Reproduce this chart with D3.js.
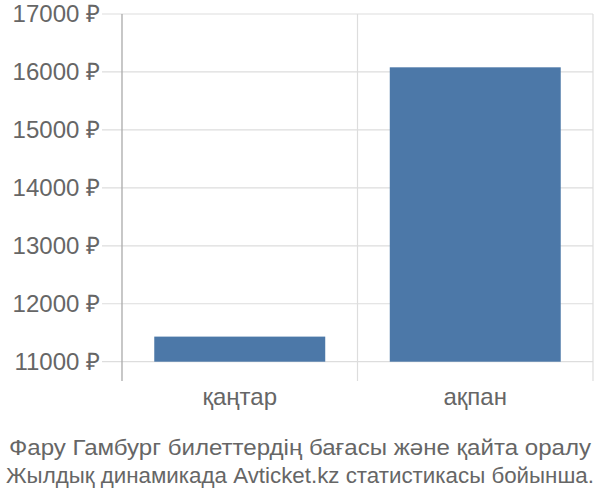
<!DOCTYPE html>
<html>
<head>
<meta charset="utf-8">
<script src="https://cdn.jsdelivr.net/npm/d3@7"></script>
<style>
  body { margin: 0; background: #fff; }
  text { font-family: "Liberation Sans", Arial, sans-serif; fill: #666; }
</style>
</head>
<body>
<div id="chart"></div>
<script>
var months = ["қаңтар", "ақпан"];
var prices = [11433, 16080];
var yTicks = [11000, 12000, 13000, 14000, 15000, 16000, 17000];
var titleLines = [
    "Фару Гамбург билеттердің бағасы және қайта оралу",
    "Жылдық динамикада Avticket.kz статистикасы бойынша."
];

function draw_chart() {
    var width = 600, height = 500;
    var left = 122, right = 593, top = 14, bottom = 361.7, axisEnd = 381;

    var svg = d3.select("#chart").append("svg")
        .attr("width", width)
        .attr("height", height);

    var xScale = d3.scaleBand()
        .domain(months)
        .range([left, right])
        .paddingInner(0)
        .paddingOuter(0);

    var yScale = d3.scaleLinear()
        .domain([11000, 17000])
        .range([bottom, top]);

    // horizontal grid lines (run under the labels as tick marks)
    svg.append("g").selectAll("line")
        .data(yTicks)
        .enter().append("line")
        .attr("x1", 102)
        .attr("x2", right)
        .attr("y1", function (d) { return yScale(d); })
        .attr("y2", function (d) { return yScale(d); })
        .attr("stroke", "#ddd")
        .attr("stroke-width", 1.2);

    // vertical grid lines at band edges
    svg.append("g").selectAll("line")
        .data(months)
        .enter().append("line")
        .attr("x1", function (d) { return xScale(d) + xScale.bandwidth(); })
        .attr("x2", function (d) { return xScale(d) + xScale.bandwidth(); })
        .attr("y1", top)
        .attr("y2", axisEnd)
        .attr("stroke", "#ddd")
        .attr("stroke-width", 1.2);

    // bars
    var inset = xScale.bandwidth() * 0.137;
    svg.append("g").selectAll("rect")
        .data(prices)
        .enter().append("rect")
        .attr("x", function (d, i) { return xScale(months[i]) + inset; })
        .attr("y", function (d) { return yScale(d); })
        .attr("width", xScale.bandwidth() - 2 * inset)
        .attr("height", function (d) { return yScale(11000) - yScale(d); })
        .attr("fill", "#4c78a8");

    // y axis line
    svg.append("line")
        .attr("x1", left).attr("x2", left)
        .attr("y1", top).attr("y2", axisEnd)
        .attr("stroke", "#aaa")
        .attr("stroke-width", 1.3);

    // y tick labels
    svg.append("g").selectAll("text")
        .data(yTicks)
        .enter().append("text")
        .attr("x", 100)
        .attr("y", function (d) { return yScale(d); })
        .attr("dy", "0.35em")
        .attr("text-anchor", "end")
        .attr("font-size", "24px")
        .text(function (d) { return d + " ₽"; });

    // category labels
    svg.append("g").selectAll("text")
        .data(months)
        .enter().append("text")
        .attr("x", function (d) { return xScale(d) + xScale.bandwidth() / 2; })
        .attr("y", 405)
        .attr("text-anchor", "middle")
        .attr("font-size", "24px")
        .text(function (d) { return d; });

    // title under the chart, stretched to the reference line widths
    var lineWidths = [582, 588];
    svg.append("g").selectAll("text")
        .data(titleLines)
        .enter().append("text")
        .attr("x", width / 2)
        .attr("y", function (d, i) { return 455 + i * 28; })
        .attr("text-anchor", "middle")
        .attr("font-size", "22px")
        .attr("textLength", function (d, i) { return lineWidths[i]; })
        .attr("lengthAdjust", "spacingAndGlyphs")
        .text(function (d) { return d; });
}

draw_chart();
</script>
</body>
</html>
